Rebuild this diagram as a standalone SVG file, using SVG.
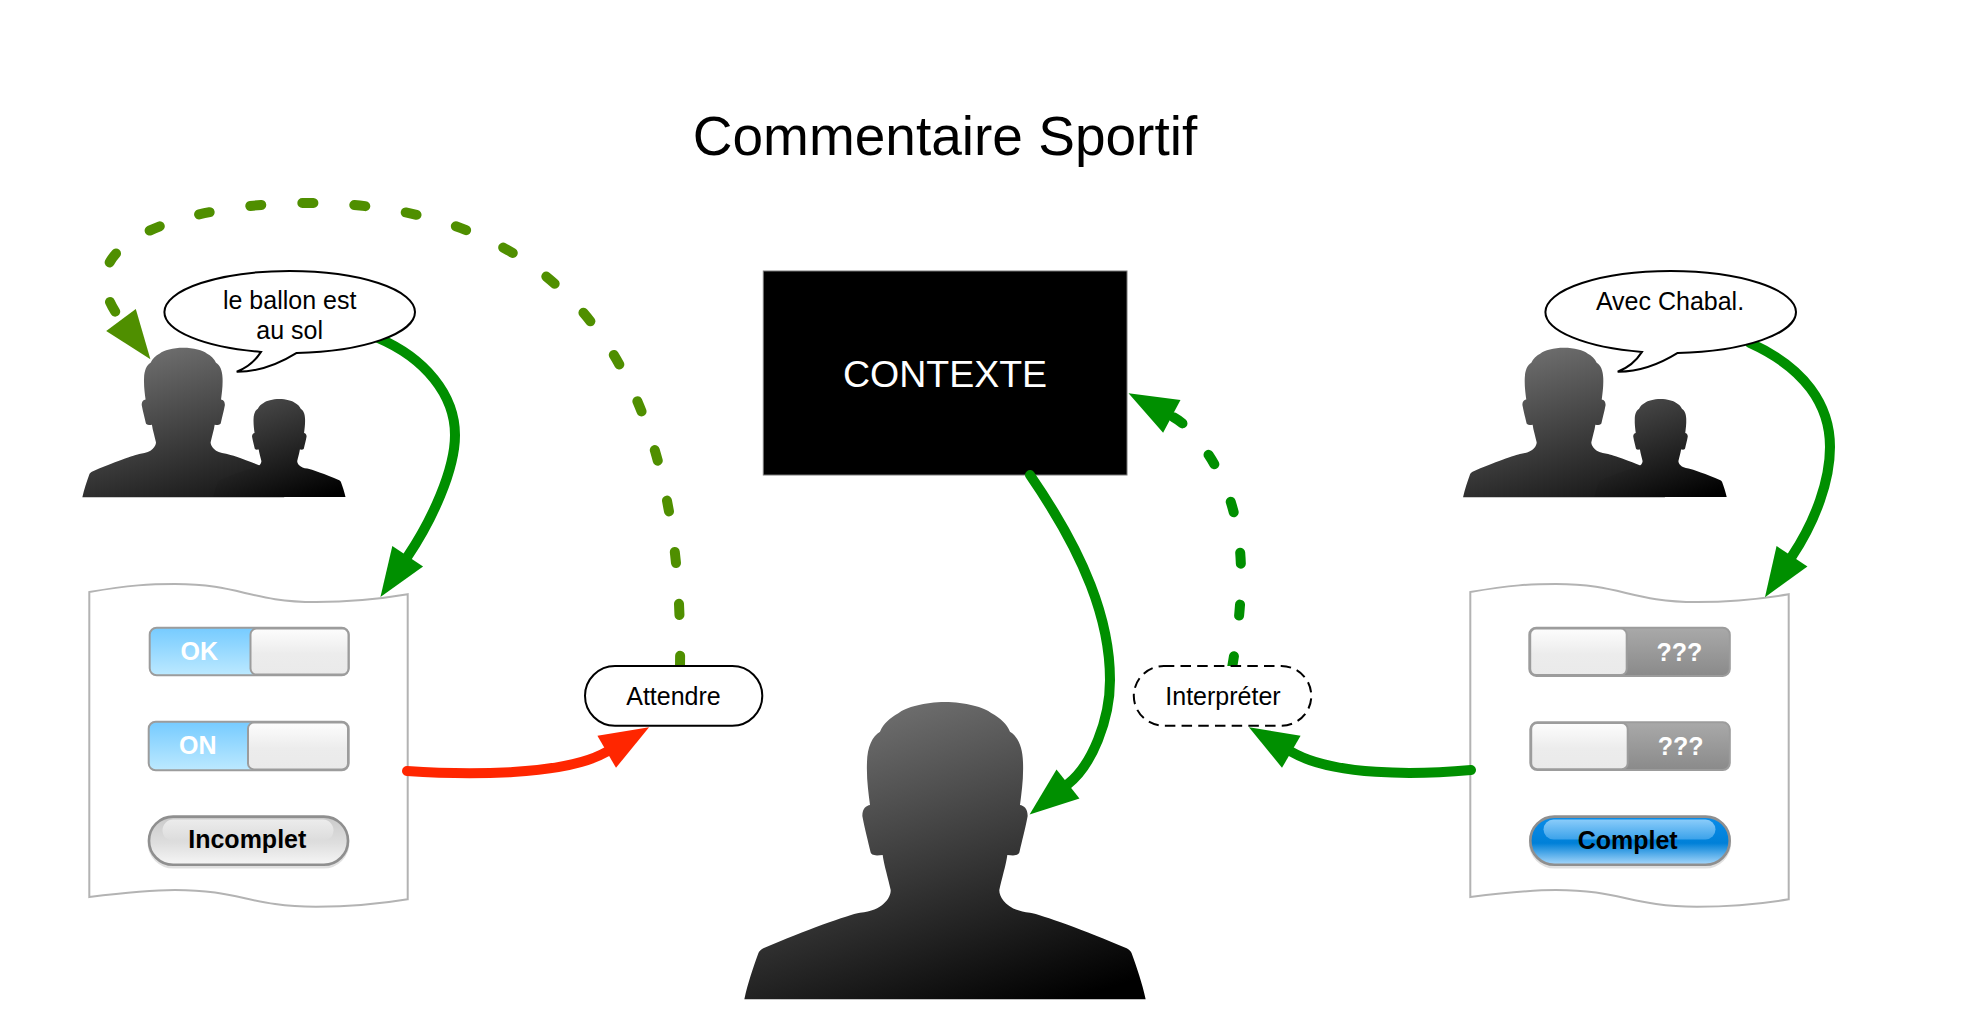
<svg xmlns="http://www.w3.org/2000/svg" xmlns:xlink="http://www.w3.org/1999/xlink" width="1966" height="1035" viewBox="0 0 1966 1035">
<style>
text{font-family:"Liberation Sans",Arial,Helvetica,sans-serif;font-size:25px;text-anchor:middle;fill:#000}
.title{font-size:55px}
.ctx{font-size:37.5px;fill:#fff}
.b{font-weight:bold}
.w{font-weight:bold;fill:#fff}
.bubble,.pill{fill:#fff;stroke:#000;stroke-width:2}
.dashed{stroke-dasharray:10.5 6.2}
.doc{fill:#fff;stroke:#b3b3b3;stroke-width:2}
.track{stroke:#9c9c9c;stroke-width:2}
.knob{fill:url(#gKnob);stroke:#9c9c9c;stroke-width:2}
.btn{stroke:#8f8f8f;stroke-width:2.6}
.shadow{fill:none;stroke:#000;stroke-opacity:.12;stroke-width:3}
.edge{fill:none;stroke-width:10;stroke-linecap:round}
.green{stroke:#008f00}
.olive{stroke:#4f8f00}
.red{stroke:#ff2600}
.dash{stroke-dasharray:11 41}
</style>
<defs>
<linearGradient id="gBig" x1="0.38" y1="0" x2="0.82" y2="1"><stop offset="0" stop-color="#6f6f6f"/><stop offset="1" stop-color="#000"/></linearGradient>
<linearGradient id="gMain" x1="0.35" y1="0" x2="0.75" y2="1"><stop offset="0" stop-color="#6f6f6f"/><stop offset="1" stop-color="#181818"/></linearGradient>
<linearGradient id="gSmall" x1="0.35" y1="0" x2="0.85" y2="1"><stop offset="0" stop-color="#484848"/><stop offset="1" stop-color="#000"/></linearGradient>
<linearGradient id="gKnob" x1="0" y1="0" x2="0" y2="1"><stop offset="0" stop-color="#fdfdfd"/><stop offset="0.55" stop-color="#ececec"/><stop offset="1" stop-color="#eaeaea"/></linearGradient>
<linearGradient id="gBlue" x1="0" y1="0" x2="0" y2="1"><stop offset="0" stop-color="#76cbff"/><stop offset="1" stop-color="#bce9ff"/></linearGradient>
<linearGradient id="gGray" x1="0" y1="0" x2="0" y2="1"><stop offset="0" stop-color="#a9a9a9"/><stop offset="1" stop-color="#8a8a8a"/></linearGradient>
<linearGradient id="gSilver" x1="0" y1="0" x2="0" y2="1"><stop offset="0" stop-color="#cacaca"/><stop offset="0.55" stop-color="#dedede"/><stop offset="1" stop-color="#f6f6f6"/></linearGradient>
<linearGradient id="gSilverGloss" x1="0" y1="0" x2="0" y2="1"><stop offset="0" stop-color="#ececec"/><stop offset="1" stop-color="#dcdcdc"/></linearGradient>
<linearGradient id="gAqua" x1="0" y1="0" x2="0" y2="1"><stop offset="0" stop-color="#0a8ce8"/><stop offset="0.55" stop-color="#0080d8"/><stop offset="1" stop-color="#a8d8fb"/></linearGradient>
<linearGradient id="gAquaGloss" x1="0" y1="0" x2="0" y2="1"><stop offset="0" stop-color="#8accfa"/><stop offset="1" stop-color="#3ba2ea"/></linearGradient>
<path id="person" d="M0,0 C60,0 118,16 140,34 C165,48 185,65 195,89 C218,102 233,135 234,180 C236,230 230,270 225,309 C236,311 248,318 248,342 C240,385 230,420 224,448 C222,460 212,462 187,459 C183,490 170,530 163,564 C162,585 185,626 255,632 C290,638 420,685 545,739 C552,743 558,748 560,754 C575,795 592,845 602,892 L-602,892 C-592,845 -575,795 -560,754 C-558,748 -552,743 -545,739 C-420,685 -290,638 -255,632 C-185,626 -162,585 -163,564 C-170,530 -183,490 -187,459 C-212,462 -222,460 -224,448 C-230,420 -240,385 -248,342 C-248,318 -236,311 -225,309 C-230,270 -236,230 -234,180 C-233,135 -218,102 -195,89 C-185,65 -165,48 -140,34 C-118,16 -60,0 0,0 Z"/>
<marker id="hGreen" markerUnits="userSpaceOnUse" markerWidth="50" markerHeight="38" refX="0" refY="18.5" orient="auto" overflow="visible"><path d="M0,0 L49,18.5 L0,37 Z" fill="#008f00"/></marker>
<marker id="hOlive" markerUnits="userSpaceOnUse" markerWidth="50" markerHeight="38" refX="0" refY="18.5" orient="auto" overflow="visible"><path d="M0,0 L49,18.5 L0,37 Z" fill="#4f8f00"/></marker>
<marker id="hRed" markerUnits="userSpaceOnUse" markerWidth="50" markerHeight="38" refX="0" refY="18.5" orient="auto" overflow="visible"><path d="M0,0 L49,18.5 L0,37 Z" fill="#ff2600"/></marker>
</defs>
<rect width="1966" height="1035" fill="#fff"/>
<text class="title" x="945" y="155">Commentaire Sportif</text>

<g id="doc-left"><path class="doc" d="M89.3,592 C130,585 150,584 175,584 C240,584 250,602 316,602 C350,602 380,599 407.7,594.3 L407.7,899.3 C380,904 350,906.7 316,906.7 C250,906.7 240,890 175,890 C150,890 130,892 89.3,897 Z"/></g>
<g id="doc-right"><path class="doc" transform="translate(1381,0)" d="M89.3,592 C130,585 150,584 175,584 C240,584 250,602 316,602 C350,602 380,599 407.7,594.3 L407.7,899.3 C380,904 350,906.7 316,906.7 C250,906.7 240,890 175,890 C150,890 130,892 89.3,897 Z"/></g>

<g id="people-left"><use xlink:href="#person" href="#person" fill="url(#gMain)" transform="translate(183.3,347.7) scale(.1677)"/><use xlink:href="#person" href="#person" fill="url(#gSmall)" transform="translate(279.3,399) scale(.11)"/></g>
<g id="people-right"><use xlink:href="#person" href="#person" fill="url(#gMain)" transform="translate(1564,347.7) scale(.1677)"/><use xlink:href="#person" href="#person" fill="url(#gSmall)" transform="translate(1660.5,399) scale(.11)"/></g>
<g id="person-center"><use xlink:href="#person" href="#person" fill="url(#gBig)" transform="translate(945,702) scale(.3333)"/></g>

<g id="contexte"><rect x="763.3" y="271" width="363.7" height="204" fill="#000" stroke="#777" stroke-width="1"/><text class="ctx" x="945" y="387.3">CONTEXTE</text></g>

<g id="connectors">
<path class="edge green" marker-end="url(#hGreen)" d="M378,338 C425,358 455,395 455,435 C455,470 432,520 407.7,556.3"/>
<path class="edge green" marker-end="url(#hGreen)" d="M1750,343 C1805,368 1830,405 1830,447 C1830,480 1816,520 1792,556.3"/>
<path class="edge green" marker-end="url(#hGreen)" d="M1030,475 C1085,555 1110,620 1110,680 C1110,720 1092,765 1068,784"/>
<path class="edge red" marker-end="url(#hRed)" d="M407,771 C465,775 565,776 606.7,751.8"/>
<path class="edge green" marker-end="url(#hGreen)" d="M1471,770 C1415,775 1333,776 1291.3,751.8"/>
<path class="edge olive dash" marker-end="url(#hOlive)" d="M680,667 C684,400 589,203 306,203 C210,203 105,230 105,280 C105,295 112,308 121,320"/>
<path class="edge green dash" stroke-dashoffset="-13" marker-end="url(#hGreen)" d="M1230,680 C1244,600 1252,520 1208,454 C1197,440 1190,426 1171.8,416.3"/>
</g>

<g id="bubble-left"><path class="bubble" d="M261,351.9 A125.3,41 0 0 1 164.4,312 A125.3,41 0 0 1 415,312 A125.3,41 0 0 1 296.7,352.9 Q266,372 236.7,371.7 Q252,366 261,351.9 Z"/><text x="289.7" y="309">le ballon est</text><text x="289.7" y="339">au sol</text></g>
<g id="bubble-right"><path class="bubble" d="M1642,351.9 A125.3,41 0 0 1 1545.4,312 A125.3,41 0 0 1 1796,312 A125.3,41 0 0 1 1677.7,352.9 Q1647,372 1617.7,371.7 Q1633,366 1642,351.9 Z"/><text x="1670" y="309.5">Avec Chabal.</text></g>

<g id="attendre"><rect class="pill" x="585" y="666" width="177.3" height="59.7" rx="30"/><text x="673.5" y="705">Attendre</text></g>
<g id="interpreter"><rect class="pill dashed" x="1133.8" y="666" width="177.5" height="59.7" rx="30"/><text x="1223" y="705">Interpréter</text></g>

<g id="toggle-ok"><rect class="track" x="149.7" y="627.7" width="199" height="47.6" rx="7" fill="url(#gBlue)"/><rect class="knob" x="250.5" y="628.6" width="98" height="46" rx="6"/><text class="w" x="199.3" y="660">OK</text></g>
<g id="toggle-on"><rect class="track" x="148.7" y="721.7" width="200" height="48.6" rx="7" fill="url(#gBlue)"/><rect class="knob" x="248" y="722.6" width="100" height="46.8" rx="6"/><text class="w" x="197.7" y="754">ON</text></g>
<g id="button-incomplet"><rect class="shadow" x="149" y="818" width="199" height="49" rx="24.5"/><rect class="btn" x="149" y="816.6" width="199" height="48.2" rx="24.1" fill="url(#gSilver)"/><rect x="162.5" y="819.5" width="171" height="21.5" rx="10.7" fill="url(#gSilverGloss)"/><text class="b" x="247.3" y="848.3">Incomplet</text></g>

<g id="toggle-q1"><rect class="track" x="1529.3" y="627.7" width="200.5" height="48.2" rx="7" fill="url(#gGray)"/><rect class="knob" x="1530.2" y="628.6" width="96.5" height="46.5" rx="6"/><text class="w" x="1679.3" y="661">???</text></g>
<g id="toggle-q2"><rect class="track" x="1530.3" y="722.3" width="199.5" height="47.8" rx="7" fill="url(#gGray)"/><rect class="knob" x="1531.2" y="723" width="96.5" height="46.3" rx="6"/><text class="w" x="1680.7" y="754.5">???</text></g>
<g id="button-complet"><rect class="shadow" x="1530.3" y="818" width="199.4" height="49" rx="24.5"/><rect class="btn" x="1530.3" y="816.6" width="199.4" height="48.2" rx="24.1" fill="url(#gAqua)"/><rect x="1543.5" y="819.5" width="172" height="20" rx="10" fill="url(#gAquaGloss)"/><text class="b" x="1627.7" y="849">Complet</text></g>
</svg>
